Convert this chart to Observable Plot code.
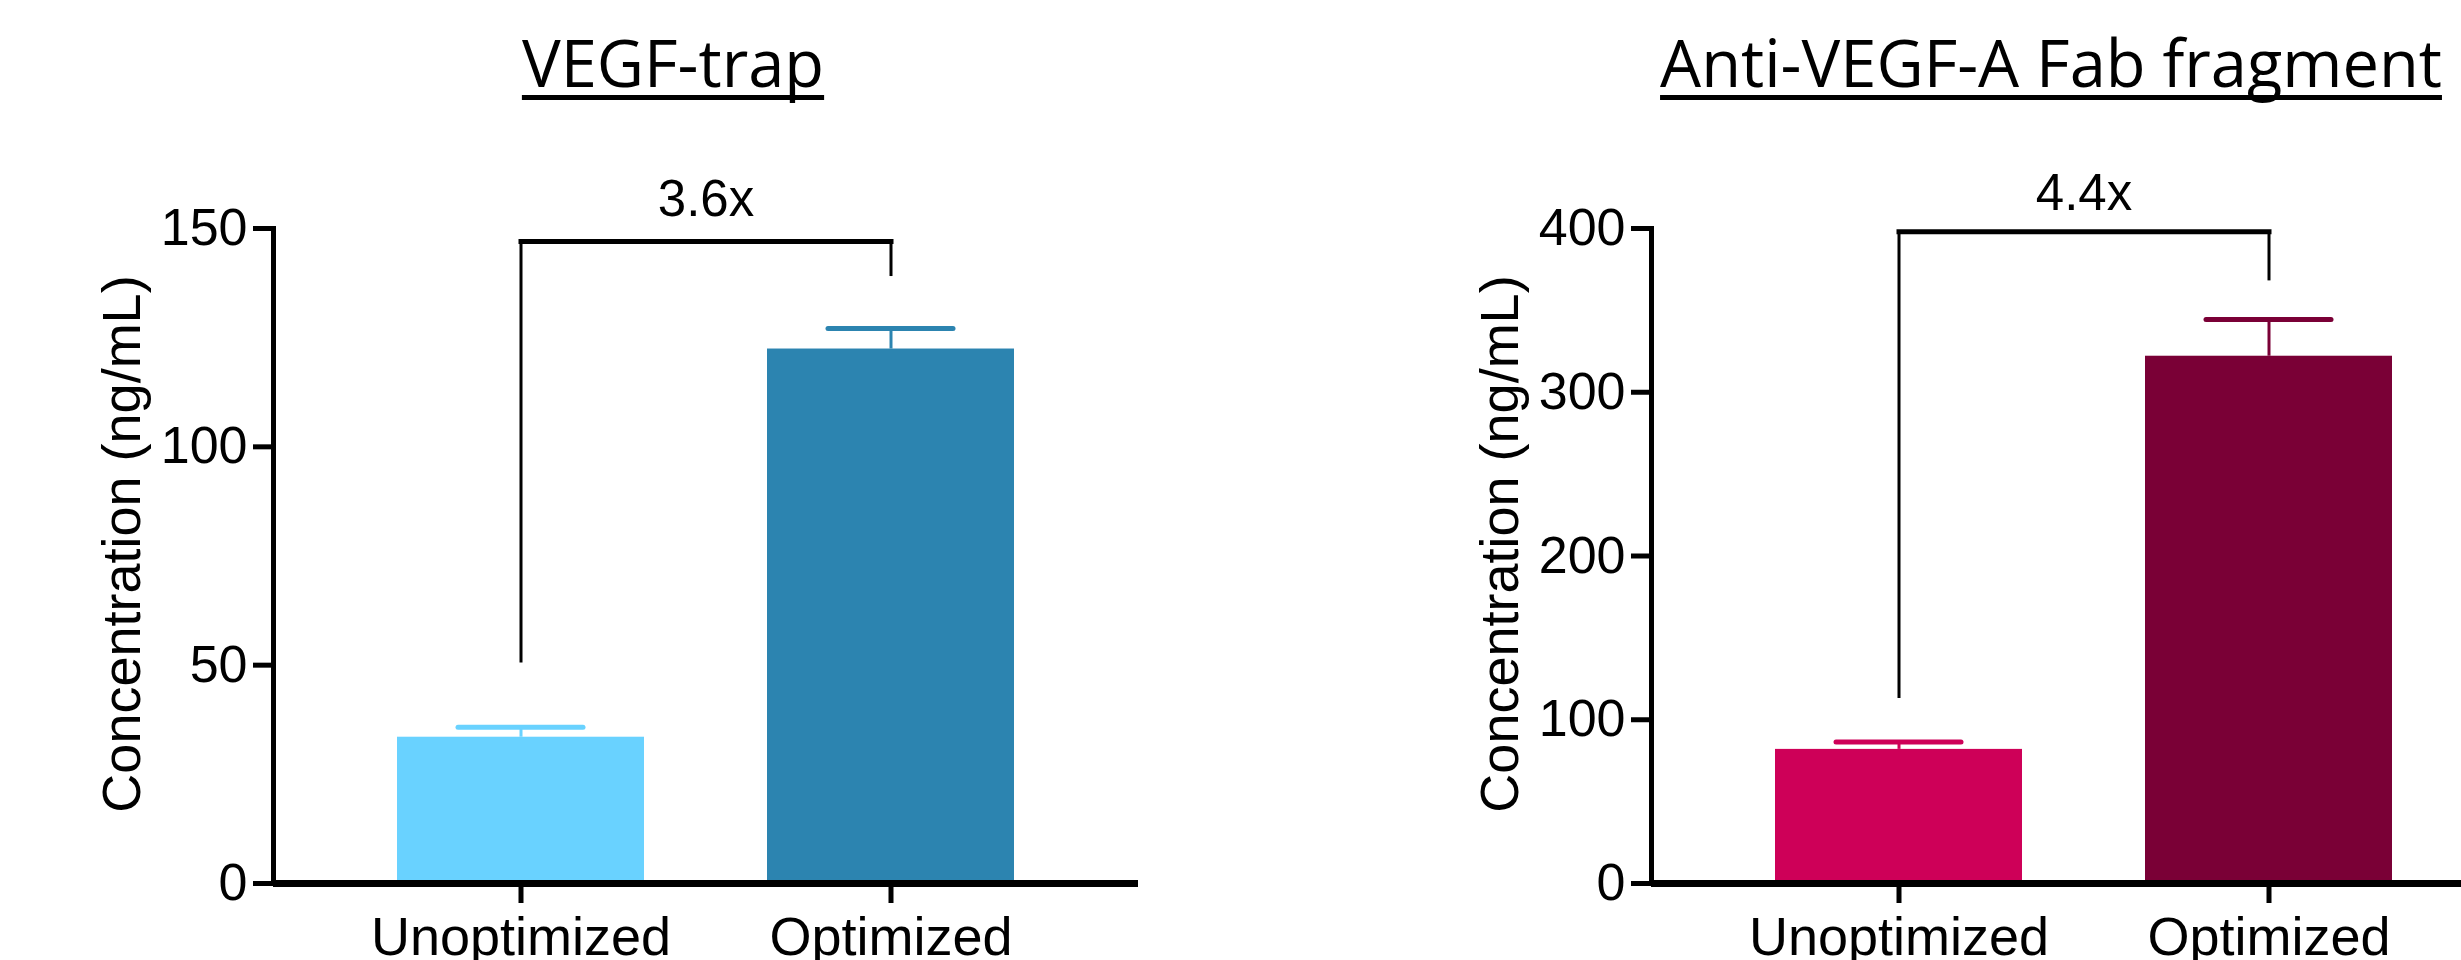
<!DOCTYPE html>
<html>
<head>
<meta charset="utf-8">
<script src="https://cdn.jsdelivr.net/npm/d3@7"></script>
<script src="https://cdn.jsdelivr.net/npm/@observablehq/plot@0.6"></script>
<style>
  html, body { margin: 0; padding: 0; background: #fff; overflow: hidden; }
  #wrap { width: 2461px; height: 960px; overflow: hidden; display: flex; }
  .panel { flex: 0 0 1378px; width: 1378px; }
  .title { position: relative; width: 1346px; height: 110px; }
  .title span {
    position: absolute; left: 0; right: 0; top: 30px; text-align: center;
    font-family: "Open Sans", sans-serif; font-size: 65px; line-height: 65px; color: #000;
    text-decoration: underline; text-decoration-thickness: 5px;
    text-underline-offset: 8px; text-decoration-skip-ink: none;
  }
  svg { display: block; }
</style>
</head>
<body>
<div id="wrap"></div>
<script>
// ---- data ----
const groups = ["Unoptimized", "Optimized"];
const titles = ["VEGF-trap", "Anti-VEGF-A Fab fragment"];
const yLabel = "Concentration (ng/mL)";

const trapMeans = [33.5, 122.4];
const trapErrors = [2.3, 4.7];
const trapTicks = [0, 50, 100, 150];
const trapColors = ["#69D2FF", "#2C84B0"];
const trapFold = "3.6x";
const trapFoldY = 156.5;
const trapBracket = [50.5, 147, 139];   // left foot, top, right foot (ng/mL)

const fabMeans = [81.9, 322];
const fabErrors = [4.5, 22.5];
const fabTicks = [0, 100, 200, 300, 400];
const fabColors = ["#CE0058", "#7A0036"];
const fabFold = "4.4x";
const fabFoldY = 421;
const fabBracket = [113, 398, 368];

function chart(means, errors, ticks, colors, fold, foldY, bracket) {
  const rows = groups.map((g, i) => ({group: g, mean: means[i], upper: means[i] + errors[i]}));
  const top = ticks[ticks.length - 1];
  const feet = groups.map((g, i) => ({group: g, y1: i === 0 ? bracket[0] : bracket[2], y2: bracket[1]}));
  const bar = groups.map(g => ({group: g, y: bracket[1]}));
  return Plot.plot({
    width: 1378,
    height: 850,
    marginLeft: 273,
    marginRight: 240,
    marginTop: 118,
    marginBottom: 77,
    style: {fontFamily: "'Liberation Sans', Arial, sans-serif", fontSize: "52px", color: "#000", background: "transparent", overflow: "visible"},
    x: {domain: groups, padding: 0.332, label: null},
    y: {domain: [0, top], label: null},
    color: {domain: groups, range: colors},
    marks: [
      Plot.barY(rows, {x: "group", y: "mean", fill: "group"}),
      Plot.ruleX(rows, {x: "group", y1: "mean", y2: "upper", stroke: "group", strokeWidth: 3}),
      Plot.tickY(rows, {x: "group", y: "upper", stroke: "group", strokeWidth: 5, strokeLinecap: "round", insetLeft: 61, insetRight: 61}),
      Plot.ruleY([0], {strokeWidth: 7, stroke: "#000"}),
      Plot.frame({anchor: "left", strokeWidth: 5, stroke: "#000"}),
      Plot.axisY({ticks, tickSize: 20, tickPadding: 6, strokeWidth: 5, fontSize: 52, label: null}),
      Plot.axisX({tickSize: 20, tickPadding: 13, strokeWidth: 5, fontSize: 54, label: null}),
      Plot.text([yLabel], {frameAnchor: "left", rotate: -90, textAnchor: "middle", lineAnchor: "middle", dx: -151, dy: -12, fontSize: 54}),
      Plot.ruleX(feet, {x: "group", y1: "y1", y2: "y2", stroke: "#000", strokeWidth: 3}),
      Plot.line(bar, {x: "group", y: "y", stroke: "#000", strokeWidth: 5, strokeLinecap: "square"}),
      Plot.text([fold], {y: [foldY], text: d => d, lineAnchor: "middle", fontSize: 51})
    ]
  });
}

const wrap = document.getElementById("wrap");
const specs = [
  [trapMeans, trapErrors, trapTicks, trapColors, trapFold, trapFoldY, trapBracket],
  [fabMeans, fabErrors, fabTicks, fabColors, fabFold, fabFoldY, fabBracket]
];
specs.forEach((s, i) => {
  const panel = document.createElement("div");
  panel.className = "panel";
  const t = document.createElement("div");
  t.className = "title";
  const span = document.createElement("span");
  span.textContent = titles[i];
  t.appendChild(span);
  panel.appendChild(t);
  panel.appendChild(chart(...s));
  wrap.appendChild(panel);
});
</script>
</body>
</html>
